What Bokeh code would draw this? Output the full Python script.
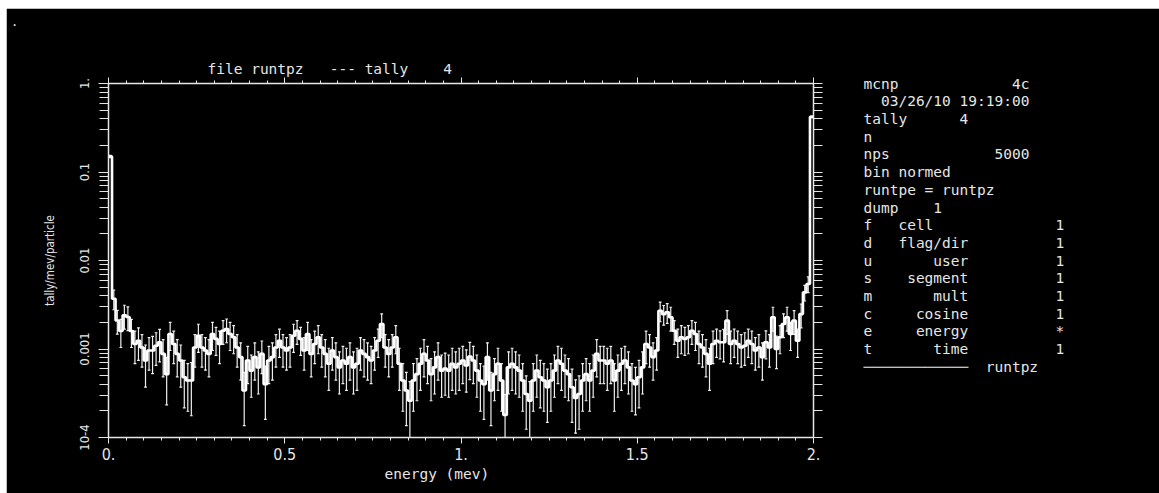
from bokeh.plotting import figure
from bokeh.models import Range1d, LinearAxis, LogAxis, FixedTicker, Title, Spacer, Label
from bokeh.layouts import row, column
from bokeh.embed import file_html
from bokeh.resources import INLINE

# ---------------- data ----------------
bin_width = 0.01  # MeV
flux = [
    0.15, 0.0037, 0.0021, 0.0016, 0.0024, 0.0023, 0.0016, 0.00114, 0.00124, 0.00104,
    0.00074, 0.00096, 0.00096, 0.00109, 0.00119, 0.00088, 0.00052, 0.00148, 0.00114, 0.00088,
    0.00074, 0.00048, 0.00044, 0.00044, 0.00104, 0.00141, 0.00104, 0.00096, 0.00088, 0.00148,
    0.00130, 0.00114, 0.00161, 0.00168, 0.00148, 0.00136, 0.00104, 0.00081, 0.00034, 0.00074,
    0.00057, 0.00081, 0.00062, 0.00088, 0.00040, 0.00074, 0.00081, 0.00104, 0.00124, 0.00104,
    0.00096, 0.00104, 0.00141, 0.00161, 0.00130, 0.00096, 0.00148, 0.00088, 0.00114, 0.00136,
    0.00104, 0.00088, 0.00068, 0.00096, 0.00081, 0.00062, 0.00074, 0.00068, 0.00081, 0.00062,
    0.00068, 0.00096, 0.00088, 0.00081, 0.00074, 0.00096, 0.00124, 0.00192, 0.00104, 0.00088,
    0.00104, 0.00136, 0.00068, 0.00044, 0.00034, 0.00026, 0.00044, 0.00052, 0.00068, 0.00088,
    0.00074, 0.00052, 0.00062, 0.00081, 0.00057, 0.00060, 0.00057, 0.00068, 0.00062, 0.00068,
    0.00074, 0.00065, 0.00082, 0.00074, 0.00057, 0.00044, 0.00040, 0.00081, 0.00034, 0.00052,
    0.00068, 0.00044, 0.00018, 0.00062, 0.00068, 0.00062, 0.00057, 0.00044, 0.00031, 0.00026,
    0.00044, 0.00057, 0.00048, 0.00044, 0.00037, 0.00044, 0.00057, 0.00074, 0.00068, 0.00057,
    0.00052, 0.00037, 0.00028, 0.00031, 0.00044, 0.00052, 0.00044, 0.00057, 0.00088, 0.00074,
    0.00074, 0.00068, 0.00074, 0.00044, 0.00057, 0.00068, 0.00074, 0.00062, 0.00044, 0.00040,
    0.00048, 0.00062, 0.00114, 0.00104, 0.00081, 0.00096, 0.00271, 0.00248, 0.00260, 0.00228,
    0.00161, 0.00124, 0.00136, 0.00130, 0.00136, 0.00161, 0.00148, 0.00114, 0.00104, 0.00088,
    0.00068, 0.00114, 0.00124, 0.00119, 0.00119, 0.00209, 0.00114, 0.00124, 0.00114, 0.00104,
    0.00109, 0.00124, 0.00114, 0.00096, 0.00104, 0.00081, 0.00119, 0.00104, 0.00228, 0.00100,
    0.00136, 0.00192, 0.00228, 0.00148, 0.00209, 0.00124, 0.00248, 0.00436, 0.00543, 0.42,
]
rel_err = [
    0.03, 0.25, 0.3, 0.35, 0.3, 0.3, 0.35, 0.4, 0.4, 0.4,
    0.5, 0.4, 0.45, 0.4, 0.4, 0.45, 0.55, 0.35, 0.4, 0.45,
    0.5, 0.55, 0.55, 0.6, 0.4, 0.35, 0.4, 0.4, 0.45, 0.35,
    0.35, 0.4, 0.3, 0.3, 0.35, 0.35, 0.4, 0.45, 0.6, 0.45,
    0.5, 0.45, 0.5, 0.4, 0.6, 0.45, 0.45, 0.4, 0.35, 0.4,
    0.4, 0.4, 0.35, 0.3, 0.35, 0.4, 0.35, 0.45, 0.4, 0.35,
    0.4, 0.45, 0.5, 0.4, 0.45, 0.5, 0.45, 0.5, 0.45, 0.5,
    0.5, 0.4, 0.45, 0.45, 0.45, 0.4, 0.35, 0.3, 0.4, 0.45,
    0.4, 0.35, 0.5, 0.55, 0.6, 0.65, 0.55, 0.5, 0.5, 0.45,
    0.45, 0.5, 0.5, 0.45, 0.5, 0.5, 0.5, 0.5, 0.5, 0.5,
    0.45, 0.5, 0.45, 0.45, 0.5, 0.55, 0.6, 0.45, 0.6, 0.5,
    0.5, 0.55, 0.7, 0.5, 0.5, 0.5, 0.5, 0.55, 0.6, 0.65,
    0.55, 0.5, 0.55, 0.55, 0.6, 0.55, 0.5, 0.45, 0.5, 0.5,
    0.5, 0.6, 0.6, 0.6, 0.55, 0.5, 0.55, 0.5, 0.45, 0.45,
    0.45, 0.5, 0.45, 0.55, 0.5, 0.5, 0.45, 0.5, 0.55, 0.55,
    0.55, 0.5, 0.4, 0.4, 0.45, 0.4, 0.25, 0.25, 0.25, 0.3,
    0.3, 0.35, 0.35, 0.35, 0.35, 0.3, 0.35, 0.4, 0.4, 0.45,
    0.5, 0.4, 0.35, 0.35, 0.4, 0.3, 0.4, 0.35, 0.4, 0.4,
    0.4, 0.35, 0.4, 0.4, 0.4, 0.45, 0.35, 0.4, 0.3, 0.4,
    0.35, 0.3, 0.3, 0.35, 0.3, 0.35, 0.3, 0.2, 0.2, 0.02,
]

x_ticks = [0, 0.5, 1, 1.5, 2]
x_tick_labels = ["0.", "0.5", "1.", "1.5", "2."]
y_ticks = [1e-4, 1e-3, 1e-2, 1e-1, 1]
y_tick_labels = ["10-4", "0.001", "0.01", "0.1", "1."]

title_text = "file runtpz   --- tally    4"
corner_mark = "."
x_label = "energy (mev)"
y_label = "tally/mev/particle"

info_head = [("mcnp", "4c"), ("  03/26/10 19:19:00", ""), ("tally", "4"), ("n", ""),
             ("nps", "5000"), ("bin normed", ""), ("runtpe = runtpz", ""), ("dump", "1")]
info_keys = ["f", "d", "u", "s", "m", "c", "e", "t"]
info_names = ["cell", "flag/dir", "user", "segment", "mult", "cosine", "energy", "time"]
info_flags = ["1", "1", "1", "1", "1", "1", "*", "1"]
legend_label = "runtpz"

# ---------------- style / layout ----------------
FG = "#e6e6e6"
MONO = "DejaVu Sans Mono"
MONO_SIZE = "14.5px"
COND = "DejaVu Sans Condensed"
NB = "\u00a0"   # non-breaking space keeps the fixed-column spacing in SVG

OX, OY = 6, 8          # white strip left / top, as in the reference
W, H = 1153, 485
FL, FR, FT, FB = 108.0, 813.0, 83.0, 437.0   # frame edges, page pixels

def dx(px):
    return (px - FL) / ((FR - FL) / 2.0)
def dy(py):
    return 10 ** (-4 + (FB - py) / ((FB - FT) / 4.0))

p = figure(width=W, height=H, x_range=Range1d(0, 2), y_range=Range1d(1e-4, 1),
           y_axis_type="log", toolbar_location=None, output_backend="svg", title=None,
           background_fill_color="black", border_fill_color="black",
           outline_line_color=None,
           min_border_left=int(FL - OX), min_border_right=int(OX + W - FR),
           min_border_top=int(FT - OY), min_border_bottom=int(OY + H - FB))
p.grid.visible = False

xt = FixedTicker(ticks=x_ticks, minor_ticks=[k * 0.05 for k in range(41)])
ymin = []
for e in range(-4, 0):
    for m in range(2, 10):
        ymin.append(m * 10 ** e)
yt = FixedTicker(ticks=y_ticks, minor_ticks=ymin)

def style(ax, tick_major, tick_minor):
    ax.axis_line_color = FG
    ax.axis_line_width = 1.5
    ax.major_tick_line_color = FG
    ax.minor_tick_line_color = FG
    ax.major_tick_line_width = 1
    ax.minor_tick_line_width = 1
    ax.major_tick_in = 0
    ax.minor_tick_in = 0
    ax.major_tick_out = tick_major
    ax.minor_tick_out = tick_minor

def hide_labels(ax, ticks):
    ax.major_label_overrides = {t: "" for t in ticks}
    ax.major_label_text_font_size = "1px"
    ax.major_label_text_alpha = 0
    ax.major_label_standoff = 0

xa = p.xaxis[0]
xa.ticker = xt
style(xa, 6, 3)
xa.major_label_overrides = {t: s for t, s in zip(x_ticks, x_tick_labels)}
xa.major_label_text_font = COND
xa.major_label_text_font_size = "16px"
xa.major_label_text_color = FG
xa.major_label_standoff = 4

ya = p.yaxis[0]
ya.ticker = yt
style(ya, 10, 9)
ya.major_label_overrides = {t: s for t, s in zip(y_ticks, y_tick_labels)}
ya.major_label_orientation = "vertical"
ya.major_label_text_font = COND
ya.major_label_text_font_size = "13px"
ya.major_label_text_color = FG
ya.major_label_standoff = 10

top = LinearAxis(ticker=xt)
style(top, 6, 3)
hide_labels(top, x_ticks)
p.add_layout(top, "above")

right = LogAxis(ticker=yt)
style(right, 9, 9)
hide_labels(right, y_ticks)
p.add_layout(right, "right")

# titles / axis names in side panels
p.add_layout(Title(text=title_text.replace(" ", NB), align="left", offset=207 - FL,
                   text_font=MONO, text_font_size=MONO_SIZE, text_font_style="normal",
                   text_color=FG, standoff=2), "above")
p.add_layout(Title(text=x_label, align="left", offset=384 - FL,
                   text_font=MONO, text_font_size=MONO_SIZE, text_font_style="normal",
                   text_color=FG, standoff=2), "below")
p.add_layout(Title(text=y_label, align="center", offset=-24,
                   text_font=COND, text_font_size="11.5px", text_font_style="normal",
                   text_color=FG, standoff=40), "left")

# ---------------- data marks ----------------
n = len(flux)
edges = [i * bin_width for i in range(n + 1)]
centers = [(i + 0.5) * bin_width for i in range(n)]
lower = [v * (1 - r) for v, r in zip(flux, rel_err)]
upper = [v * (1 + r) for v, r in zip(flux, rel_err)]
cap = 0.004

p.segment(x0=centers, y0=lower, x1=centers, y1=upper, line_color="#eeeeee", line_width=1.2)
p.segment(x0=[c - cap for c in centers], y0=upper, x1=[c + cap for c in centers], y1=upper,
          line_color="#eeeeee", line_width=1.2)
p.segment(x0=[c - cap for c in centers], y0=lower, x1=[c + cap for c in centers], y1=lower,
          line_color="#eeeeee", line_width=1.2)
p.step(x=edges, y=flux + [flux[-1]], mode="after", line_color="white", line_width=2.6)

# ---------------- info block (one multi-line label in the right side panel) ----------------
extra_col = {"4c": 17, "4": 11, "5000": 15, "1": 8}
lines = []
for a, b in info_head:
    lines.append(a if not b else a.ljust(extra_col[b]) + b)
for k, nm, fl in zip(info_keys, info_names, info_flags):
    if nm == "cell":
        s = k + "   " + nm
    else:
        s = k + nm.rjust(11)
    lines.append(s.ljust(22) + fl)
lines.append("\u2500" * 12 + "  " + legend_label)
info_text = "\n".join(l.replace(" ", NB) for l in lines)

row0, step = 88.3, 17.7
p.add_layout(Label(x=dx(863), y=dy(row0 - 13.1), x_units="data", y_units="data",
                   text=info_text, text_font=MONO, text_font_size=MONO_SIZE,
                   text_color=FG, text_align="left", text_baseline="top",
                   text_line_height=1.106), "right")
p.add_layout(Label(x=dx(10.5), y=dy(21), x_units="data", y_units="data",
                   text=corner_mark, text_font=MONO, text_font_size="12px",
                   text_color=FG, text_align="left", text_baseline="alphabetic"), "right")

layout = column(Spacer(height=OY, width=OX + W),
                row(Spacer(width=OX, height=H), p))

open("out.html", "w").write(file_html(layout, INLINE))
